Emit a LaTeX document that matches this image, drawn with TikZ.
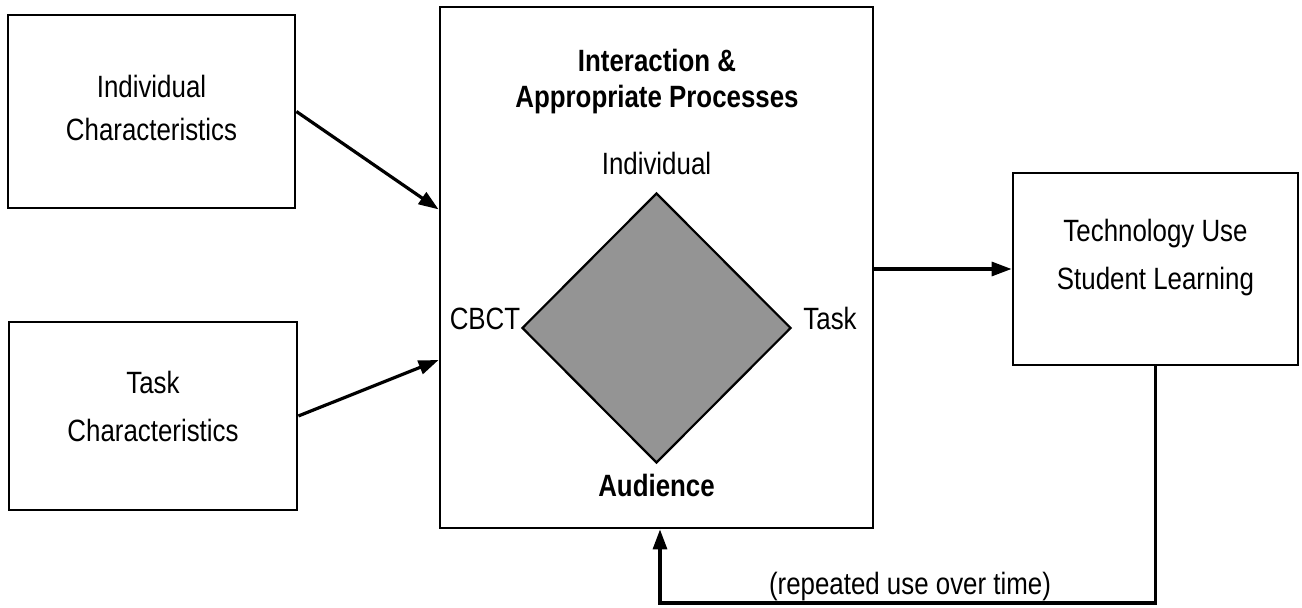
\documentclass[tikz,border=0pt]{standalone}
\usepackage{fontspec}
\setmainfont{Liberation Sans}[FakeStretch=0.84]
\usetikzlibrary{arrows.meta,shapes.geometric,fit}
\begin{document}
\begin{tikzpicture}[x=0.5pt,y=-0.5pt,
  box/.style={draw, line width=1.4pt, inner sep=0pt, fit={#1}},
  txt/.style={anchor=base, inner sep=0pt, font=\fontsize{15.4}{18}\selectfont},
  btxt/.style={anchor=base, inner sep=0pt, font=\fontsize{15.4}{18}\selectfont\bfseries},
  arr/.style={line width=1.6pt, -{Triangle[length=10pt,width=7pt]}},
  dia/.style={diamond, draw, line width=1.1pt, fill=black!42, inner sep=0pt, minimum width=134.5pt, minimum height=135pt}]
\useasboundingbox (0,0) rectangle (1302,608);
% boxes
\node (ind) [box={(8,15) (295,208)}] {};
\node (task) [box={(9,322) (297,510)}] {};
\node (cen) [box={(440,7) (873,528)}] {};
\node (tech) [box={(1013,173) (1298,365)}] {};
% texts in left boxes
\node (indA) [txt] at (151.5,98) {Individual};
\node (indB) [txt] at (151.5,141) {Characteristics};
\node (taskA) [txt] at (153,394) {Task};
\node (taskB) [txt] at (153,442) {Characteristics};
% central box
\node (titA) [btxt] at (657,72) {Interaction \&};
\node (titB) [btxt] at (657,108) {Appropriate Processes};
\node (dmd) [dia] at (656.5,328) {};
\node (lInd) [txt] at (656.5,175) {Individual};
\node (lCBCT) [txt] at (485,330) {CBCT};
\node (lTask) [txt] at (830,330) {Task};
\node (lAud) [btxt] at (656.5,497) {Audience};
% tech box
\node (techA) [txt] at (1155.5,242) {Technology Use};
\node (techB) [txt] at (1155.5,290) {Student Learning};
% connectors
\coordinate (in2) at (cen.west |- 0,360);
\draw[arr] (ind.east) -- (cen.west |- ind.south);
\draw[arr] (task.east) -- (in2);
\draw[arr] (cen.east |- tech.west) -- (tech.west);
\coordinate (fbc) at (660,603);
\coordinate (fbin) at (cen.south -| fbc);
\draw[arr] (tech.south) |- (fbc) -- (fbin);
\node (rep) [txt] at (910,595) {(repeated use over time)};
\end{tikzpicture}
\end{document}
